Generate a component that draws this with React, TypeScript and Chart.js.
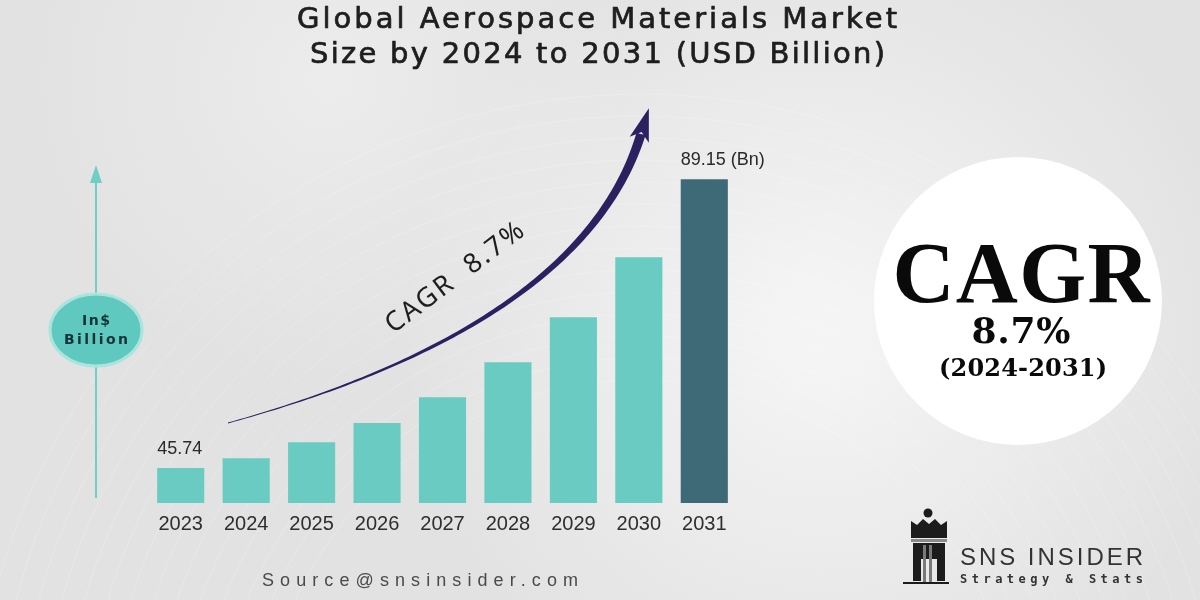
import React, { useEffect, useRef } from "react";
import { Chart, registerables } from "chart.js";

Chart.register(...registerables);

// ---- data ----
const years = ["2023", "2024", "2025", "2026", "2027", "2028", "2029", "2030", "2031"];
const marketSize = [45.74, 47.24, 49.64, 52.5, 56.4, 61.66, 68.42, 77.43, 89.15];
const valueLabels = ["45.74", "", "", "", "", "", "", "", "89.15 (Bn)"];
const titleLines = ["Global Aerospace Materials Market", "Size by 2024 to 2031 (USD Billion)"];
const cagrArrowText = "CAGR  8.7%";
const badgeLines = ["CAGR", "8.7%", "(2024-2031)"];
const unitLines = ["In$", "Billion"];
const sourceText = "Source@snsinsider.com";
const brandName = "SNS INSIDER";
const brandTagline = "Strategy & Stats";
const yMin = 40.5;
const yMax = 100.5;

// ---- styles ----
const TEAL = "#6acbc2";
const DARK = "#3e6a78";
const NAVY = "#2b2160";

function fitText(
  ctx: CanvasRenderingContext2D,
  text: string,
  x: number,
  y: number,
  width: number,
  align: "left" | "center",
  strokeW = 0
) {
  ctx.save();
  (ctx as any).letterSpacing = "0px";
  const w0 = ctx.measureText(text).width;
  const n = Math.max(1, text.length - 1);
  const sp = (width - w0) / n;
  (ctx as any).letterSpacing = sp + "px";
  ctx.textAlign = "left";
  const startX = align === "center" ? x - width / 2 : x;
  ctx.fillText(text, startX, y);
  if (strokeW > 0) {
    ctx.strokeStyle = ctx.fillStyle as string;
    ctx.lineWidth = strokeW;
    ctx.lineJoin = "round";
    ctx.strokeText(text, startX, y);
  }
  ctx.restore();
}

const decorPlugin = {
  id: "decor",
  beforeDraw(chart: any) {
    const ctx: CanvasRenderingContext2D = chart.ctx;
    const W = chart.width;
    const H = chart.height;
    ctx.save();
    ctx.fillStyle = "#e2e2e2";
    ctx.fillRect(0, 0, W, H);
    let g = ctx.createRadialGradient(820, 330, 20, 820, 330, 420);
    g.addColorStop(0, "rgba(248,248,248,0.85)");
    g.addColorStop(1, "rgba(248,248,248,0)");
    ctx.fillStyle = g;
    ctx.fillRect(0, 0, W, H);
    g = ctx.createRadialGradient(330, 80, 10, 330, 80, 300);
    g.addColorStop(0, "rgba(242,242,242,0.6)");
    g.addColorStop(1, "rgba(242,242,242,0)");
    ctx.fillStyle = g;
    ctx.fillRect(0, 0, W, H);
    ctx.strokeStyle = "rgba(255,255,255,0.18)";
    ctx.lineWidth = 1;
    for (let i = 0; i < 14; i++) {
      ctx.beginPath();
      ctx.arc(640, 760, 380 + i * 22, Math.PI * 1.05, Math.PI * 1.95);
      ctx.stroke();
    }
    ctx.restore();

    // title
    ctx.save();
    ctx.fillStyle = "#1e1e1e";
    ctx.font = "29px 'DejaVu Sans'";
    ctx.textBaseline = "alphabetic";
    fitText(ctx, titleLines[0], 597, 28, 600, "center", 0.7);
    fitText(ctx, titleLines[1], 597.5, 63, 575, "center", 0.7);
    ctx.restore();

    // left unit axis
    ctx.save();
    ctx.strokeStyle = "#6fcfc5";
    ctx.fillStyle = "#6fcfc5";
    ctx.lineWidth = 2;
    ctx.beginPath();
    ctx.moveTo(96, 498);
    ctx.lineTo(96, 180);
    ctx.stroke();
    ctx.beginPath();
    ctx.moveTo(96, 165);
    ctx.lineTo(102, 183);
    ctx.lineTo(90, 183);
    ctx.closePath();
    ctx.fill();
    ctx.beginPath();
    ctx.ellipse(96, 330, 46, 36, 0, 0, Math.PI * 2);
    ctx.fillStyle = "#5fc9bf";
    ctx.fill();
    ctx.lineWidth = 3;
    ctx.strokeStyle = "#a9e4dd";
    ctx.stroke();
    ctx.fillStyle = "#123238";
    ctx.font = "bold 14px 'DejaVu Sans'";
    ctx.textBaseline = "alphabetic";
    fitText(ctx, unitLines[0], 96, 325, 28, "center");
    fitText(ctx, unitLines[1], 96, 344, 64, "center");
    ctx.restore();

    // right badge
    ctx.save();
    ctx.beginPath();
    ctx.arc(1018, 301, 144, 0, Math.PI * 2);
    ctx.fillStyle = "#ffffff";
    ctx.fill();
    ctx.fillStyle = "#0a0a0a";
    ctx.textBaseline = "alphabetic";
    ctx.font = "bold 86px 'Liberation Serif'";
    fitText(ctx, badgeLines[0], 1021, 302, 257, "center");
    ctx.font = "bold 36px 'DejaVu Serif'";
    fitText(ctx, badgeLines[1], 1021, 343, 99, "center");
    ctx.font = "bold 24px 'DejaVu Serif'";
    fitText(ctx, badgeLines[2], 1023, 376, 168, "center");
    ctx.restore();

    // source
    ctx.save();
    ctx.fillStyle = "#4a4a4a";
    ctx.font = "18px 'Liberation Sans'";
    fitText(ctx, sourceText, 262, 586, 316, "left");
    ctx.restore();

    // logo
    ctx.save();
    ctx.fillStyle = "#1c1c1c";
    ctx.beginPath();
    ctx.arc(928, 513, 4.5, 0, Math.PI * 2);
    ctx.fill();
    ctx.beginPath();
    ctx.moveTo(911, 538);
    ctx.lineTo(911, 521);
    ctx.lineTo(917, 525);
    ctx.lineTo(923, 519);
    ctx.lineTo(929, 524);
    ctx.lineTo(935, 519);
    ctx.lineTo(941, 525);
    ctx.lineTo(947, 521);
    ctx.lineTo(947, 538);
    ctx.closePath();
    ctx.fill();
    ctx.fillStyle = "#8a8a8a";
    ctx.fillRect(911, 539, 36, 3);
    ctx.fillStyle = "#1c1c1c";
    ctx.fillRect(913, 543, 32, 16);
    ctx.fillRect(913, 559, 8, 22);
    ctx.fillRect(937, 559, 8, 22);
    ctx.fillStyle = "#7a7a7a";
    ctx.fillRect(923, 545, 3, 37);
    ctx.fillRect(929, 545, 3, 37);
    ctx.fillStyle = "#1c1c1c";
    ctx.fillRect(903, 582, 46, 2);
    ctx.fillStyle = "#333333";
    ctx.font = "24px 'Liberation Sans'";
    fitText(ctx, brandName, 960, 565, 183, "left");
    ctx.font = "bold 12px 'DejaVu Sans Mono'";
    fitText(ctx, brandTagline, 960, 583, 183, "left");
    ctx.restore();
  },
  afterDatasetsDraw(chart: any) {
    const ctx: CanvasRenderingContext2D = chart.ctx;
    // growth arrow
    const P0 = [228, 423], P1 = [420, 370], P2 = [596, 282], P3 = [641, 134];
    const pt = (t: number) => {
      const u = 1 - t;
      return [
        u * u * u * P0[0] + 3 * u * u * t * P1[0] + 3 * u * t * t * P2[0] + t * t * t * P3[0],
        u * u * u * P0[1] + 3 * u * u * t * P1[1] + 3 * u * t * t * P2[1] + t * t * t * P3[1],
      ];
    };
    const der = (t: number) => {
      const u = 1 - t;
      return [
        3 * u * u * (P1[0] - P0[0]) + 6 * u * t * (P2[0] - P1[0]) + 3 * t * t * (P3[0] - P2[0]),
        3 * u * u * (P1[1] - P0[1]) + 6 * u * t * (P2[1] - P1[1]) + 3 * t * t * (P3[1] - P2[1]),
      ];
    };
    const left: number[][] = [];
    const right: number[][] = [];
    const N = 100;
    for (let i = 0; i <= N; i++) {
      const t = i / N;
      const p = pt(t);
      const d = der(t);
      const len = Math.hypot(d[0], d[1]);
      const nx = -d[1] / len, ny = d[0] / len;
      const w = 0.4 + 4.3 * Math.pow(t, 1.3);
      left.push([p[0] + nx * w, p[1] + ny * w]);
      right.push([p[0] - nx * w, p[1] - ny * w]);
    }
    ctx.save();
    ctx.fillStyle = NAVY;
    ctx.beginPath();
    ctx.moveTo(left[0][0], left[0][1]);
    for (const q of left) ctx.lineTo(q[0], q[1]);
    for (let i = right.length - 1; i >= 0; i--) ctx.lineTo(right[i][0], right[i][1]);
    ctx.closePath();
    ctx.fill();
    const d = der(1);
    const len = Math.hypot(d[0], d[1]);
    const ux = d[0] / len, uy = d[1] / len;
    const nx = -uy, ny = ux;
    const base = [P3[0] - ux * 6, P3[1] - uy * 6];
    const tip = [P3[0] + ux * 27, P3[1] + uy * 27];
    ctx.beginPath();
    ctx.moveTo(tip[0], tip[1]);
    ctx.lineTo(base[0] + nx * 10, base[1] + ny * 10);
    ctx.lineTo(P3[0] + ux * 2, P3[1] + uy * 2);
    ctx.lineTo(base[0] - nx * 10, base[1] - ny * 10);
    ctx.closePath();
    ctx.fill();
    ctx.restore();

    // text along the arrow
    ctx.save();
    ctx.translate(455, 278);
    ctx.rotate((-37 * Math.PI) / 180);
    ctx.fillStyle = "#1e1e1e";
    ctx.font = "27px 'Noto Sans'";
    ctx.textBaseline = "middle";
    fitText(ctx, cagrArrowText, 0, 0, 166, "center");
    ctx.restore();

    // value labels
    const meta = chart.getDatasetMeta(0);
    ctx.save();
    ctx.fillStyle = "#2a2a2a";
    ctx.font = "18px 'Liberation Sans'";
    ctx.textBaseline = "alphabetic";
    ctx.textAlign = "left";
    meta.data.forEach((bar: any, i: number) => {
      const lbl = valueLabels[i];
      if (!lbl) return;
      const props = bar.getProps(["x", "y", "width"], true);
      ctx.fillText(lbl, props.x - props.width / 2, props.y - 14);
    });
    ctx.restore();
  },
};

export default function App() {
  const ref = useRef<HTMLCanvasElement | null>(null);
  useEffect(() => {
    if (!ref.current) return;
    const chart = new Chart(ref.current, {
      type: "bar",
      data: {
        labels: years,
        datasets: [
          {
            data: marketSize,
            backgroundColor: (c: any) => (c.dataIndex === years.length - 1 ? DARK : TEAL),
            borderWidth: 0,
            categoryPercentage: 1,
            barPercentage: 0.72,
          },
        ],
      },
      options: {
        responsive: false,
        devicePixelRatio: 1,
        animation: false,
        layout: { padding: { left: 148, right: 463, top: 103.6, bottom: 0 } },
        plugins: {
          legend: { display: false },
          tooltip: { enabled: false },
          title: { display: false },
        },
        scales: {
          x: {
            grid: { display: false, drawTicks: false },
            border: { display: false },
            ticks: {
              color: "#2e2e2e",
              font: { family: "'Liberation Sans'", size: 20 },
              padding: 9.5,
            },
            afterFit: (s: any) => {
              s.height = 97;
            },
          },
          y: { display: false, min: yMin, max: yMax },
        },
      },
      plugins: [decorPlugin],
    } as any);
    return () => chart.destroy();
  }, []);
  return (
    <div style={{ position: "fixed", left: 0, top: 0, width: 1200, height: 600 }}>
      <canvas ref={ref} width={1200} height={600} style={{ display: "block" }} />
    </div>
  );
}
